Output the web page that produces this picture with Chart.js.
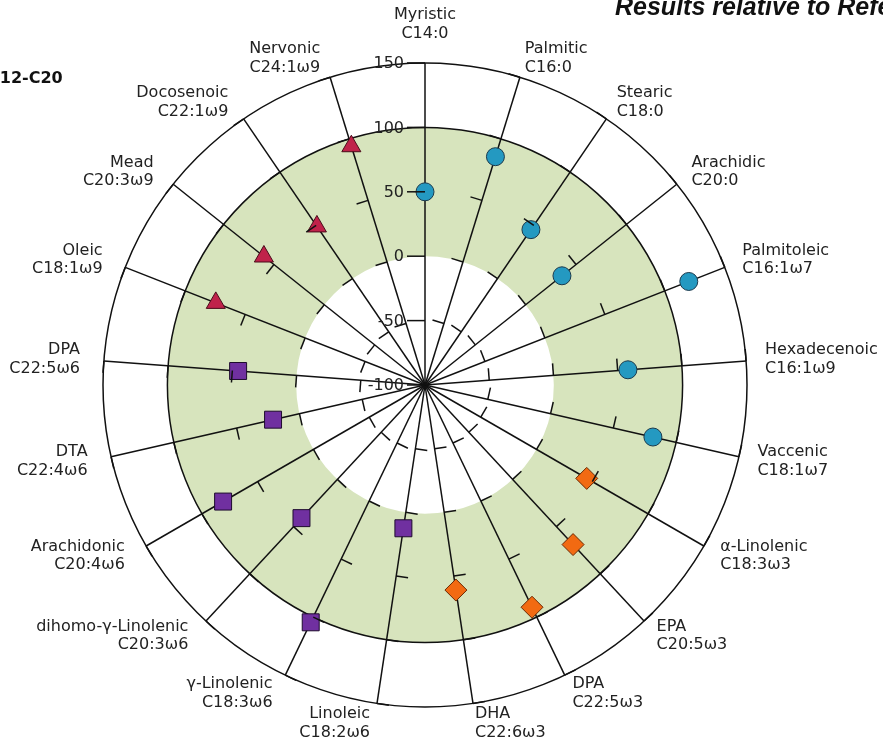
<!DOCTYPE html>
<html>
<head>
<meta charset="utf-8">
<script src="https://cdn.jsdelivr.net/npm/chart.js@4"></script>
<style>
  html, body { margin: 0; padding: 0; background: #fff; overflow: hidden; }
  #wrap { position: relative; width: 883px; height: 747px; overflow: hidden; }
  canvas { position: absolute; left: 0; top: 0; }
  .note { position: absolute; white-space: nowrap; color: #111; }
  #title { left: 615px; top: -8px; font: italic bold 25px "Liberation Sans", sans-serif; }
  #range { left: -12px; top: 68px; font: bold 16px "DejaVu Sans", sans-serif; }
</style>
</head>
<body>
<div id="wrap">
  <canvas id="chart" width="883" height="747"></canvas>
  <div class="note" id="title">Results relative to Reference</div>
  <div class="note" id="range">C12-C20</div>
</div>
<script>
// categories, clockwise from the top
const names = ['Myristic', 'Palmitic', 'Stearic', 'Arachidic', 'Palmitoleic', 'Hexadecenoic', 'Vaccenic',
  'α-Linolenic', 'EPA', 'DPA', 'DHA',
  'Linoleic', 'γ-Linolenic', 'dihomo-γ-Linolenic', 'Arachidonic', 'DTA', 'DPA',
  'Oleic', 'Mead', 'Docosenoic', 'Nervonic'];
const formulas = ['C14:0', 'C16:0', 'C18:0', 'C20:0', 'C16:1ω7', 'C16:1ω9', 'C18:1ω7',
  'C18:3ω3', 'C20:5ω3', 'C22:5ω3', 'C22:6ω3',
  'C18:2ω6', 'C18:3ω6', 'C20:3ω6', 'C20:4ω6', 'C22:4ω6', 'C22:5ω6',
  'C18:1ω9', 'C20:3ω9', 'C22:1ω9', 'C24:1ω9'];

const tickValues = [-100, -50, 0, 50, 100, 150];
const bandLow = 0;
const bandHigh = 100;

const N = null;
const satValues   = [50, 85.5, 46, 36, 120, 58, 81.5, N, N, N, N, N, N, N, N, N, N, N, N, N, N];
const omega3Values = [N, N, N, N, N, N, N, 45, 69, 91.5, 61, N, N, N, N, N, N, N, N, N, N];
const omega6Values = [N, N, N, N, N, N, N, N, N, N, N, 12.5, 104.5, 41, 81, 21, 45.5, N, N, N, N];
const omega9Values = [N, N, N, N, N, N, N, N, N, N, N, N, N, N, N, N, N, 74.5, 60, 49, 94];

const lineColor = '#111';
const labelFont = '16px "DejaVu Sans", sans-serif';

const bandPlugin = {
  id: 'band',
  beforeDraw(chart) {
    const r = chart.scales.r;
    const ctx = chart.ctx;
    const inner = r.getDistanceFromCenterForValue(bandLow);
    const outer = r.getDistanceFromCenterForValue(bandHigh);
    ctx.save();
    ctx.fillStyle = '#d7e4bd';
    ctx.beginPath();
    ctx.arc(r.xCenter, r.yCenter, outer, 0, Math.PI * 2);
    ctx.arc(r.xCenter, r.yCenter, inner, 0, Math.PI * 2, true);
    ctx.fill();
    ctx.restore();
  }
};

const spokePlugin = {
  id: 'spokes',
  afterDraw(chart) {
    const r = chart.scales.r;
    const ctx = chart.ctx;
    ctx.save();
    ctx.strokeStyle = lineColor;
    ctx.lineWidth = 1.5;
    // little tick marks on every spoke
    for (let i = 0; i < names.length; i++) {
      const a = r.getIndexAngle(i) - Math.PI / 2;
      const dx = Math.cos(a), dy = Math.sin(a);
      tickValues.forEach(v => {
        if (v === -100 && i !== 0) return;
        const p = r.getPointPosition(i, r.getDistanceFromCenterForValue(v));
        const len = i === 0 ? 18 : 12;
        ctx.beginPath();
        ctx.moveTo(p.x, p.y);
        ctx.lineTo(p.x + dy * len, p.y - dx * len);
        ctx.stroke();
      });
    }
    // value labels left of the top spoke
    ctx.fillStyle = '#222';
    ctx.font = labelFont;
    ctx.textAlign = 'right';
    ctx.textBaseline = 'middle';
    tickValues.forEach(v => {
      const p = r.getPointPosition(0, r.getDistanceFromCenterForValue(v));
      ctx.fillText(String(v), p.x - 21, p.y + 1);
    });
    // category labels
    const lineH = 18.5;
    for (let i = 0; i < names.length; i++) {
      const deg = i * 360 / names.length;
      const p = r.getPointPosition(i, r.drawingArea + 20);
      const lines = [names[i], formulas[i]];
      let x = p.x, y0;
      if (deg === 0) {
        ctx.textAlign = 'center';
        y0 = p.y - lineH * (lines.length - 0.5);
      } else {
        ctx.textAlign = deg < 180 ? 'left' : 'right';
        x = deg < 180 ? p.x - 1 : p.x - 4;
        y0 = p.y - lineH * (lines.length - 1) / 2;
      }
      lines.forEach((t, k) => ctx.fillText(t, x, y0 + k * lineH));
    }
    ctx.restore();
  }
};

function pointSet(label, data, style, radius, fill, border) {
  return {
    label: label,
    data: data,
    showLine: false,
    fill: false,
    pointStyle: style,
    pointRadius: radius,
    pointHoverRadius: radius,
    pointBackgroundColor: fill,
    pointBorderColor: border,
    pointBorderWidth: 1,
    borderColor: border,
    backgroundColor: fill
  };
}

new Chart(document.getElementById('chart'), {
  type: 'radar',
  data: {
    labels: names,
    datasets: [
      pointSet('Saturated / ω7', satValues, 'circle', 9, '#2499c1', '#1b3a4d'),
      pointSet('ω3', omega3Values, 'rectRot', 11, '#f26a12', '#6b2a05'),
      pointSet('ω6', omega6Values, 'rect', 12, '#7030a0', '#1e0b2e'),
      pointSet('ω9', omega9Values, 'triangle', 11, '#c0224a', '#4a0b1a')
    ]
  },
  options: {
    responsive: false,
    animation: false,
    layout: { padding: { left: 103, right: 136, top: 63, bottom: 40 } },
    plugins: {
      legend: { display: false },
      tooltip: { enabled: false }
    },
    scales: {
      r: {
        z: 1,
        min: -100,
        max: 150,
        ticks: { display: false, stepSize: 50 },
        pointLabels: { display: false },
        angleLines: { color: lineColor, lineWidth: 1.5 },
        grid: {
          circular: true,
          lineWidth: 1.5,
          color: ctx => (ctx.tick && (ctx.tick.value === 100 || ctx.tick.value === 150)) ? lineColor : 'rgba(0,0,0,0)'
        }
      }
    }
  },
  plugins: [bandPlugin, spokePlugin]
});
</script>
</body>
</html>
